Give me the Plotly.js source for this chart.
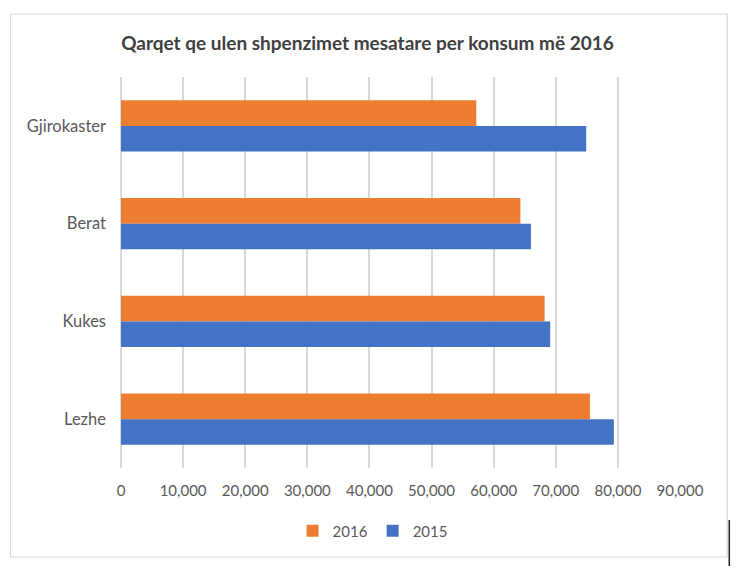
<!DOCTYPE html>
<html>
<head>
<meta charset="utf-8">
<script src="https://cdn.plot.ly/plotly-3.0.1.min.js"></script>
<style>html,body{margin:0;padding:0;background:#fff;}#chart{width:750px;height:578px;}</style>
</head>
<body>
<div id="chart"></div>
<script>
const categories = ["Gjirokaster", "Berat", "Kukes", "Lezhe"];
const values2016 = [57200, 64300, 68200, 75500];
const values2015 = [74900, 66000, 69100, 79350];
const seriesNames = ["2016", "2015"];
const xTickVals = [0, 10000, 20000, 30000, 40000, 50000, 60000, 70000, 80000, 90000];

const traces = [
  {type: "bar", orientation: "h", name: seriesNames[0], y: categories, x: values2016,
   marker: {color: "#ED7D31"}, hoverinfo: "x+name"},
  {type: "bar", orientation: "h", name: seriesNames[1], y: categories, x: values2015,
   marker: {color: "#4472C4"}, hoverinfo: "x+name"}
];

const layout = {
  width: 750, height: 578,
  paper_bgcolor: "#ffffff", plot_bgcolor: "#ffffff",
  margin: {l: 120.5, r: 70.3, t: 77, b: 110},
  font: {family: "Lato, 'Open Sans', sans-serif", color: "#595959", size: 14},
  title: {text: "Qarqet qe ulen shpenzimet mesatare per konsum më 2016",
          font: {size: 19, color: "#404040", weight: 700},
          x: 0.49, xanchor: "center", y: 1 - 43/578, yanchor: "middle", yref: "container"},
  barmode: "group", bargap: 0.478, bargroupgap: 0,
  xaxis: {range: [0, 90000], tickvals: xTickVals, tickformat: ",", showgrid: true,
          gridcolor: "#D9D9D9", gridwidth: 2, zeroline: true, zerolinecolor: "#D9D9D9",
          zerolinewidth: 2, showline: false, ticks: "", ticklabelstandoff: 12,
          tickfont: {size: 15, color: "#595959"}, fixedrange: true},
  yaxis: {autorange: "reversed", showgrid: false, zeroline: false, showline: false,
          ticks: "", ticklabelstandoff: 14, tickfont: {size: 16.5, color: "#595959"}, fixedrange: true},
  showlegend: true,
  legend: {orientation: "h", x: 0.45, xanchor: "center", y: (468-531)/391, yanchor: "middle",
           font: {size: 15, color: "#595959"}, itemwidth: 30, traceorder: "normal"},
  shapes: [
    {type: "rect", xref: "paper", yref: "paper", x0: (10-120.5)/559.2, x1: (727-120.5)/559.2,
     y0: (468-557)/391, y1: (468-14)/391, line: {color: "#D9D9D9", width: 1.2}, layer: "below"},
    {type: "line", xref: "paper", yref: "paper", x0: (729-120.5)/559.2, x1: (729-120.5)/559.2,
     y0: (468-520)/391, y1: (468-566)/391, line: {color: "#222222", width: 1.5}}
  ]
};

Plotly.newPlot("chart", traces, layout, {displayModeBar: false, staticPlot: true});
</script>
</body>
</html>
